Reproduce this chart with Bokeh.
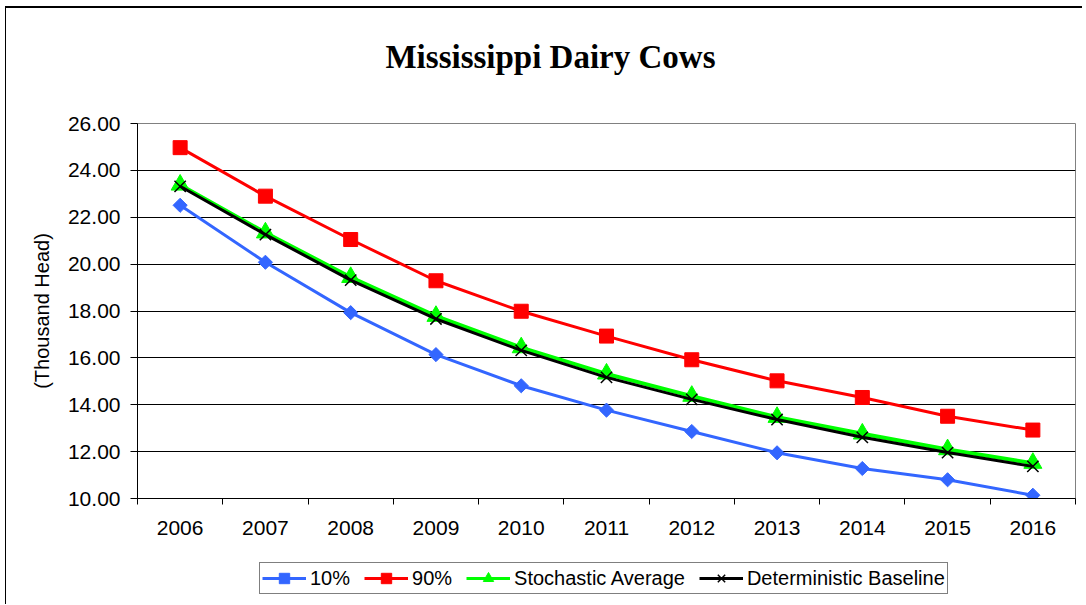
from bokeh.plotting import figure
from bokeh.layouts import column
from bokeh.models import (FixedTicker, NumeralTickFormatter, Legend, LegendItem,
                          Range1d, Label)
from bokeh.embed import file_html
from bokeh.resources import INLINE

# ---- data ----
years = [2006, 2007, 2008, 2009, 2010, 2011, 2012, 2013, 2014, 2015, 2016]
pct10 = [22.51, 20.08, 17.93, 16.14, 14.81, 13.77, 12.86, 11.95, 11.28, 10.80, 10.14]
pct90 = [24.97, 22.90, 21.05, 19.29, 17.99, 16.93, 15.92, 15.02, 14.31, 13.51, 12.92]
stoch_avg = [23.38, 21.34, 19.44, 17.78, 16.44, 15.32, 14.37, 13.47, 12.76, 12.09, 11.51]
determ = [23.32, 21.26, 19.32, 17.66, 16.32, 15.17, 14.23, 13.37, 12.61, 11.96, 11.37]
y_ticks = [10, 12, 14, 16, 18, 20, 22, 24, 26]
year_labels = ["2006", "2007", "2008", "2009", "2010", "2011", "2012", "2013", "2014", "2015", "2016"]
series_names = ["10%", "90%", "Stochastic Average", "Deterministic Baseline"]
title_text = "Mississippi Dairy Cows"

blue, red, green, black = "#3366FF", "#FF0000", "#00FF00", "#000000"


def strip(height):
    f = figure(width=1076, height=height, x_range=Range1d(0, 1), y_range=Range1d(0, 1),
               output_backend="svg", toolbar_location=None,
               x_axis_location=None, y_axis_location=None,
               min_border=0, min_border_left=0, min_border_right=0,
               min_border_top=0, min_border_bottom=0,
               outline_line_color=None, background_fill_color="white",
               border_fill_color="white")
    f.xgrid.visible = False
    f.ygrid.visible = False
    return f


# ---- title strip ----
r = strip(101)
r.add_layout(Label(x=413, y=53, x_units="screen", y_units="screen", text=title_text,
                   text_align="center", text_baseline="alphabetic",
                   text_font="Liberation Serif", text_font_size="33px",
                   text_font_style="bold", text_color="black"))

# ---- main chart ----
p = figure(width=1076, height=439,
           x_range=Range1d(years[0] - 0.5, years[-1] + 0.5),
           y_range=Range1d(y_ticks[0], y_ticks[-1]),
           output_backend="svg", toolbar_location=None,
           min_border_left=131, min_border_right=7,
           min_border_top=14, min_border_bottom=50,
           background_fill_color="white", border_fill_color="white")

xa = p.below[0]
ya = p.left[0]

xa.ticker = FixedTicker(ticks=years,
                        minor_ticks=[y - 0.5 for y in years] + [years[-1] + 0.5])
xa.major_label_overrides = {y: s for y, s in zip(years, year_labels)}
xa.major_tick_out = 0
xa.major_tick_in = 0
xa.minor_tick_out = 6
xa.minor_tick_in = 0
xa.minor_tick_line_color = "black"
xa.major_label_standoff = 16

ya.ticker = FixedTicker(ticks=y_ticks, minor_ticks=[])
ya.formatter = NumeralTickFormatter(format="0.00")
ya.major_tick_out = 7
ya.major_tick_in = 0
ya.minor_tick_line_color = None
ya.major_label_standoff = 10
ya.axis_label = "(Thousand Head)"
ya.axis_label_text_font = "Liberation Sans"
ya.axis_label_text_font_size = "20px"
ya.axis_label_text_font_style = "normal"
ya.axis_label_text_color = "black"
ya.axis_label_standoff = 12

for ax in (xa, ya):
    ax.axis_line_color = "black"
    ax.axis_line_width = 1
    ax.major_tick_line_color = "black"
    ax.major_label_text_font = "Liberation Sans"
    ax.major_label_text_font_size = "21px"
    ax.major_label_text_color = "black"

p.xgrid.visible = False
p.ygrid.ticker = FixedTicker(ticks=y_ticks)
p.ygrid.grid_line_color = "black"
p.ygrid.grid_line_width = 1
p.outline_line_color = "#808080"
p.outline_line_width = 1

p.line(years, pct10, line_color=blue, line_width=3)
p.scatter(years, pct10, marker="square", angle=0.785398, size=10,
          fill_color=blue, line_color=blue)
p.line(years, pct90, line_color=red, line_width=3)
p.scatter(years, pct90, marker="square", size=14, fill_color=red, line_color=red)
p.line(years, stoch_avg, line_color=green, line_width=4)
p.scatter(years, stoch_avg, marker="triangle", size=18, fill_color=green, line_color=green)
p.line(years, determ, line_color=black, line_width=3)
p.scatter(years, determ, marker="x", size=16, line_color=black, line_width=1.5)

# ---- legend strip (its series lie outside its own view) ----
q = strip(56)
ql1 = q.line(years, pct10, line_color=blue, line_width=3)
qs1 = q.scatter(years, pct10, marker="square", angle=0.785398, size=10,
                fill_color=blue, line_color=blue)
ql2 = q.line(years, pct90, line_color=red, line_width=3)
qs2 = q.scatter(years, pct90, marker="square", size=13, fill_color=red, line_color=red)
ql3 = q.line(years, stoch_avg, line_color=green, line_width=3)
qs3 = q.scatter(years, stoch_avg, marker="triangle", size=16, fill_color=green, line_color=green)
ql4 = q.line(years, determ, line_color=black, line_width=3)
qs4 = q.scatter(years, determ, marker="x", size=14, line_color=black, line_width=1.5)

legend = Legend(items=[LegendItem(label=series_names[0], renderers=[ql1, qs1]),
                       LegendItem(label=series_names[1], renderers=[ql2, qs2]),
                       LegendItem(label=series_names[2], renderers=[ql3, qs3]),
                       LegendItem(label=series_names[3], renderers=[ql4, qs4])],
                orientation="horizontal", location=(122, 10), margin=0,
                glyph_width=44, glyph_height=26, label_standoff=4, spacing=14,
                padding=2, border_line_color="black", border_line_width=1,
                label_text_font="Liberation Sans", label_text_font_size="20px",
                label_text_color="black",
                label_height=20, background_fill_alpha=1)
q.add_layout(legend, "center")

layout = column(r, p, q, spacing=0,
                styles={"margin-left": "5px", "margin-top": "6px",
                        "border-left": "1px solid #000", "border-top": "2px solid #000"})

open("out.html", "w").write(file_html(layout, INLINE))
